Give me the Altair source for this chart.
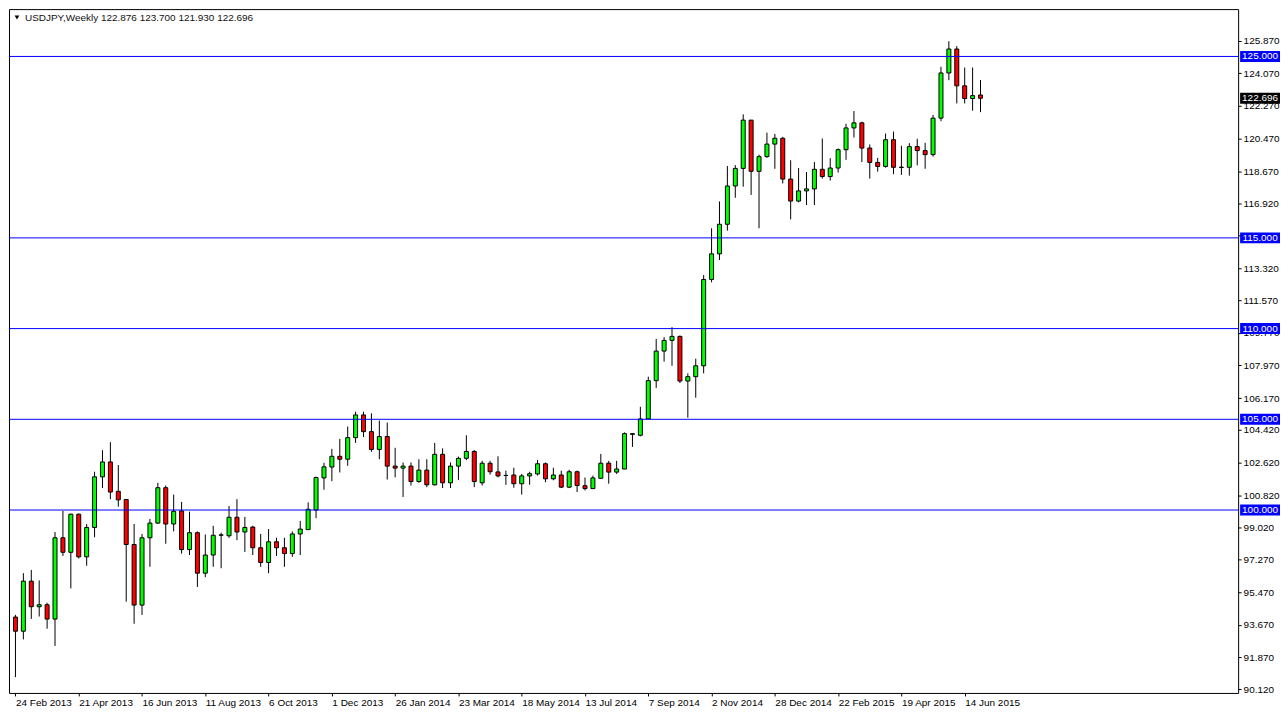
import altair as alt
import pandas as pd
import numpy as np

# ---- data (weekly USDJPY candles, 24 Feb 2013 -> 28 Jun 2015) ----
opens = [94.10, 93.32, 96.08, 94.67, 94.78, 93.99, 98.47, 97.67, 99.77, 97.42,
         99.04, 101.83, 102.65, 101.03, 100.58, 98.10, 94.76, 98.47, 99.28, 101.23,
         99.23, 99.95, 97.82, 98.75, 96.52, 97.52, 98.61, 98.58, 99.60, 98.79,
         99.06, 97.92, 97.11, 98.25, 97.92, 97.60, 98.68, 98.92, 100.00, 101.77,
         102.37, 102.96, 102.80, 103.99, 105.24, 104.32, 103.34, 104.05, 102.42, 102.31,
         102.42, 101.57, 102.20, 101.39, 103.07, 101.50, 102.42, 102.85, 103.23, 101.50,
         102.58, 102.10, 101.90, 101.93, 101.45, 101.88, 101.99, 102.55, 101.72, 101.93,
         101.26, 102.11, 101.34, 101.18, 101.75, 102.58, 102.09, 102.26, 104.17, 104.12,
         105.02, 107.13, 108.76, 109.35, 109.57, 107.11, 107.35, 107.95, 112.71, 114.12,
         115.75, 117.86, 118.83, 121.49, 118.67, 119.48, 120.17, 120.49, 118.24, 117.03,
         117.59, 117.70, 118.78, 118.38, 118.85, 119.86, 121.06, 121.34, 119.95, 119.16,
         118.94, 120.41, 118.88, 118.89, 120.03, 119.81, 119.59, 121.60, 124.09, 125.41,
         123.38, 122.68, 122.876]
highs = [94.22, 96.52, 96.70, 96.12, 94.89, 98.79, 99.95, 99.80, 99.80, 99.23,
         102.11, 103.30, 103.74, 102.48, 100.58, 99.23, 98.68, 99.51, 101.50, 101.35,
         100.85, 100.45, 99.91, 98.82, 98.65, 99.13, 98.75, 100.22, 100.60, 99.62,
         99.13, 98.68, 98.95, 98.47, 98.47, 98.82, 99.40, 100.42, 101.84, 102.60,
         103.37, 103.92, 104.60, 105.42, 105.42, 105.33, 104.93, 104.82, 103.43, 102.62,
         102.62, 102.80, 102.80, 103.70, 103.40, 102.62, 102.94, 104.12, 103.30, 102.71,
         102.71, 102.96, 102.17, 102.33, 101.99, 102.11, 102.76, 102.62, 102.33, 102.17,
         102.22, 102.17, 101.79, 101.90, 103.09, 102.71, 102.71, 104.28, 104.21, 105.69,
         107.35, 109.43, 109.53, 110.08, 109.62, 107.53, 108.34, 112.95, 115.53, 117.01,
         118.96, 119.01, 121.81, 121.49, 119.59, 120.80, 120.73, 120.57, 119.28, 118.85,
         118.63, 119.18, 120.48, 119.39, 119.93, 121.29, 121.99, 121.40, 120.15, 119.41,
         120.75, 120.86, 120.08, 120.22, 120.46, 120.24, 121.78, 124.43, 125.84, 125.57,
         124.39, 124.39, 123.700]
lows = [90.79, 92.87, 94.00, 94.13, 93.46, 92.51, 97.47, 95.68, 97.33, 96.93,
        98.50, 101.21, 100.60, 100.18, 94.95, 93.73, 94.22, 96.87, 99.23, 98.14,
        98.82, 97.60, 97.52, 95.76, 96.30, 96.87, 96.79, 98.47, 98.34, 97.69,
        97.52, 96.87, 96.52, 97.47, 96.87, 97.42, 97.52, 98.90, 99.55, 101.12,
        101.59, 102.07, 102.44, 103.70, 104.02, 103.21, 102.80, 101.68, 101.80, 100.72,
        101.35, 101.50, 101.26, 101.35, 101.21, 101.21, 101.66, 102.75, 101.26, 101.35,
        101.95, 101.80, 101.39, 101.23, 100.85, 101.39, 101.90, 101.53, 101.64, 101.21,
        101.21, 100.99, 101.08, 101.18, 101.72, 101.45, 101.99, 102.26, 103.48, 104.06,
        105.02, 106.73, 108.18, 107.95, 107.00, 105.09, 106.19, 107.53, 112.55, 113.78,
        115.40, 117.21, 117.82, 117.37, 115.53, 119.41, 118.81, 118.00, 116.02, 116.96,
        116.81, 116.81, 118.27, 118.16, 118.60, 119.30, 120.53, 119.18, 118.27, 118.65,
        118.87, 118.51, 118.47, 118.43, 119.00, 118.81, 119.48, 121.43, 123.69, 122.41,
        122.41, 122.01, 121.930]
closes = [93.32, 96.08, 94.67, 94.78, 93.99, 98.47, 97.67, 99.77, 97.42, 99.04,
          101.83, 102.65, 100.99, 100.56, 98.10, 94.76, 98.47, 99.28, 101.23, 99.23,
          99.93, 97.82, 98.75, 96.52, 97.52, 98.61, 98.63, 99.60, 98.79, 99.04,
          97.92, 97.11, 98.25, 97.92, 97.60, 98.68, 98.95, 100.04, 101.79, 102.38,
          102.96, 102.80, 103.99, 105.24, 104.32, 103.34, 104.05, 102.42, 102.31, 102.42,
          101.57, 102.20, 101.39, 103.07, 101.50, 102.42, 102.85, 103.23, 101.57, 102.58,
          102.11, 101.88, 101.91, 101.45, 101.88, 102.00, 102.55, 101.72, 101.93, 101.26,
          102.11, 101.35, 101.18, 101.77, 102.58, 102.09, 102.26, 104.21, 104.21, 105.02,
          107.13, 108.76, 109.35, 109.57, 107.11, 107.35, 107.95, 112.71, 114.12, 115.75,
          117.86, 118.83, 121.49, 118.67, 119.48, 120.17, 120.49, 118.24, 117.03, 117.59,
          117.70, 118.78, 118.38, 118.85, 119.86, 121.06, 121.34, 119.95, 119.16, 118.94,
          120.41, 118.89, 118.90, 120.03, 119.81, 119.59, 121.60, 124.09, 125.41, 123.38,
          122.68, 122.84, 122.696]

first_week = "2013-02-24"
date_labels = ["24 Feb 2013", "21 Apr 2013", "16 Jun 2013", "11 Aug 2013", "6 Oct 2013",
               "1 Dec 2013", "26 Jan 2014", "23 Mar 2014", "18 May 2014", "13 Jul 2014",
               "7 Sep 2014", "2 Nov 2014", "28 Dec 2014", "22 Feb 2015", "19 Apr 2015",
               "14 Jun 2015"]
price_ticks = [125.870, 124.070, 122.270, 120.470, 118.670, 116.920, 115.120, 113.320,
               111.570, 109.770, 107.970, 106.170, 104.420, 102.620, 100.820, 99.020,
               97.270, 95.470, 93.670, 91.870, 90.120]
level_lines = [125.0, 115.0, 110.0, 105.0, 100.0]
last_price = [122.696]
title_text = "USDJPY,Weekly  122.876 123.700 121.930 122.696"

# ---- layout (scales chosen so 1px lines fall on pixel centres) ----
W, H = 1233, 686
PX_PER_UNIT = 18.2          # vertical pixels per yen
Y_MAX = 125.0 + 47.5 / PX_PER_UNIT
Y_MIN = Y_MAX - H / PX_PER_UNIT
PX_PER_WEEK = 8.0
X_MIN = -1.5 / PX_PER_WEEK
X_MAX = X_MIN + W / PX_PER_WEEK
FONT = "Liberation Sans"
FS = 10

df = pd.DataFrame({"i": np.arange(len(opens)), "open": opens, "high": highs,
                   "low": lows, "close": closes})
df["week"] = pd.date_range(first_week, periods=len(opens), freq="7D").strftime("%d %b %Y")
df["dir"] = np.where(df["close"] >= df["open"], "up", "down")

ys = alt.Scale(domain=[Y_MIN, Y_MAX], nice=False, zero=False)
xs = alt.Scale(domain=[X_MIN, X_MAX], nice=False, zero=False)

label_arr = "[" + ",".join("'" + s + "'" for s in date_labels) + "]"
x_axis = alt.Axis(values=list(range(0, 8 * len(date_labels), 8)),
                  labelExpr=label_arr + "[round(datum.value/8)]",
                  title=None, grid=False, domain=False, tickSize=3, tickColor="black",
                  labelAlign="left", labelBaseline="top", labelPadding=2,
                  labelFlush=False, labelOverlap=False, labelFont=FONT,
                  labelFontSize=FS, labelColor="black")
y_axis = alt.Axis(orient="right", values=price_ticks, format=".3f", title=None,
                  grid=False, domain=False, tickSize=3, tickColor="black",
                  labelPadding=2, labelOverlap=False, labelFont=FONT,
                  labelFontSize=FS, labelColor="black", zindex=0)


def X(field):
    return alt.X(field, scale=xs, axis=x_axis)


def Y(field):
    return alt.Y(field, scale=ys, axis=y_axis)


base = alt.Chart(df)

wicks = base.mark_rule(color="black", strokeWidth=1, clip=True).encode(
    x=X("i:Q"), y=Y("low:Q"), y2="high:Q",
)
bodies = base.mark_bar(width=4, stroke="black", strokeWidth=1, clip=True).encode(
    x=X("i:Q"), y=Y("open:Q"), y2="close:Q",
    fill=alt.Fill("dir:N", scale=alt.Scale(domain=["up", "down"],
                                           range=["#00ff00", "#ff0000"]), legend=None),
    tooltip=["week:N", "open:Q", "high:Q", "low:Q", "close:Q"],
)

half = 5.5 / PX_PER_UNIT
lv = pd.DataFrame({"price": level_lines})
lv["lo"] = lv["price"] - half
lv["hi"] = lv["price"] + half
lp = pd.DataFrame({"price": last_price})
lp["lo"] = lp["price"] - half
lp["hi"] = lp["price"] + half

level_rules = alt.Chart(lv).mark_rule(color="#0000ff", strokeWidth=1).encode(
    y=Y("price:Q"))


def tag(frame, color):
    box = alt.Chart(frame).mark_rect(color=color).encode(
        x=alt.value(W + 2), x2=alt.value(W + 42),
        y=Y("lo:Q"), y2="hi:Q")
    txt = alt.Chart(frame).mark_text(color="white", font=FONT, fontSize=FS,
                                     align="center", baseline="middle").encode(
        x=alt.value(W + 22),
        y=Y("price:Q"),
        text=alt.Text("price:Q", format=".3f"))
    return box + txt


tri = alt.Chart(pd.DataFrame({"t": [title_text]})).mark_point(
    shape="triangle-down", filled=True, color="black", size=22, opacity=1).encode(
    x=alt.value(8), y=alt.value(8.5))
title = alt.Chart(pd.DataFrame({"t": [title_text]})).mark_text(
    font=FONT, fontSize=FS, color="#111111", align="left", baseline="middle").encode(
    x=alt.value(16), y=alt.value(9), text="t:N")

chart = alt.layer(
    wicks, bodies, level_rules, tag(lv, "#0000ff"), tag(lp, "#000000"), tri, title
).properties(width=W, height=H, padding=0, background="white").configure_view(
    stroke="black", strokeWidth=1
)

chart.save("out.html", embed_options={"renderer": "svg", "actions": False})
